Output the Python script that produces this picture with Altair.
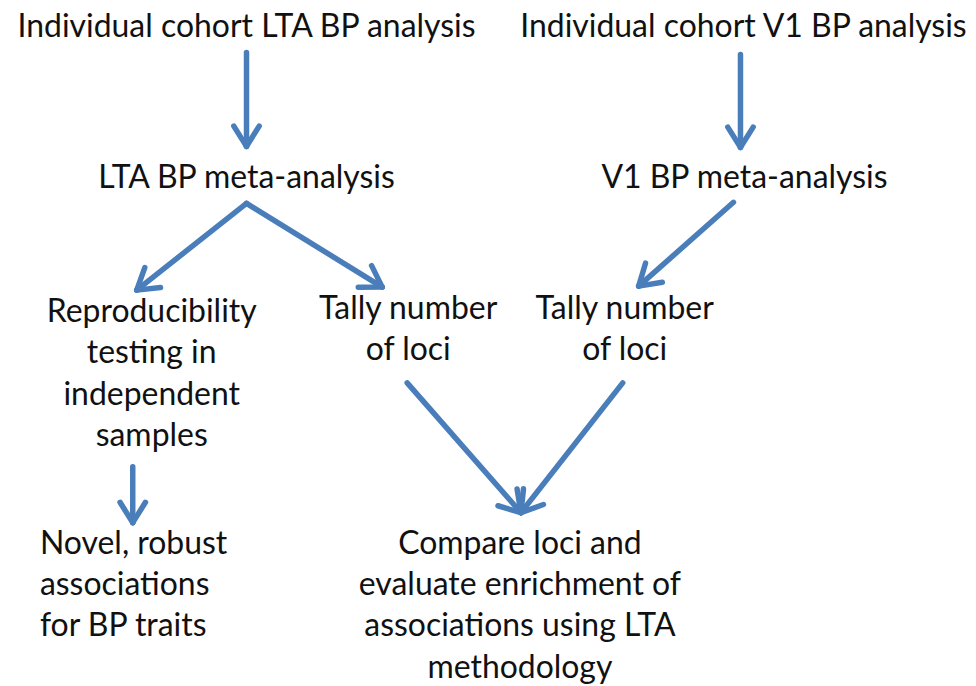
import math
import altair as alt
import pandas as pd

# ---- data: flowchart boxes (text lines, anchor x, first baseline y, alignment) ----
node_lines = [
    ["Individual cohort LTA BP analysis"],
    ["Individual cohort V1 BP analysis"],
    ["LTA BP meta-analysis"],
    ["V1 BP meta-analysis"],
    ["Reproducibility", "testing in", "independent", "samples"],
    ["Tally number", "of loci"],
    ["Tally number", "of loci"],
    ["Novel, robust", "associations", "for BP traits"],
    ["Compare loci and", "evaluate enrichment of", "associations using LTA", "methodology"],
]
node_x = [247, 745, 247, 746, 152, 409, 626, 40, 521]
node_y = [36, 36, 188, 188, 322, 319, 319, 554, 554]
node_align = ["center", "center", "center", "center", "center", "center", "center", "left", "center"]

# ---- data: arrows (start -> tip) ----
arrow_x1 = [247, 742, 247, 247, 735, 408, 624, 133]
arrow_y1 = [52, 54, 203, 203, 202, 383, 383, 467]
arrow_x2 = [247, 742, 137, 383, 640, 522, 522, 133]
arrow_y2 = [146, 147, 290, 287, 286, 513, 513, 523]

LINE_GAP = 41.5
HEAD_LEN = 24
HEAD_ANGLE = math.radians(32)
BLUE = "#4A7EBB"
FONT = "Lato"
FSIZE = 32

rows = []
for lines, x, y, al in zip(node_lines, node_x, node_y, node_align):
    for i, t in enumerate(lines):
        rows.append({"text": t, "x": x, "y": y + i * LINE_GAP, "align": al})
text_df = pd.DataFrame(rows)

segs = []
for x1, y1, x2, y2 in zip(arrow_x1, arrow_y1, arrow_x2, arrow_y2):
    segs.append({"x": x1, "y": y1, "x2": x2, "y2": y2})
    ang = math.atan2(y1 - y2, x1 - x2)
    for s in (-1, 1):
        a = ang + s * HEAD_ANGLE
        segs.append({"x": x2, "y": y2,
                     "x2": x2 + HEAD_LEN * math.cos(a),
                     "y2": y2 + HEAD_LEN * math.sin(a)})
seg_df = pd.DataFrame(segs)

W, H = 960, 670
xs = alt.Scale(domain=[8, 8 + W])
ys = alt.Scale(domain=[8, 8 + H], reverse=True)

arrows = alt.Chart(seg_df).mark_rule(
    color=BLUE, strokeWidth=5.5, strokeCap="round"
).encode(
    x=alt.X("x:Q", scale=xs, axis=None),
    y=alt.Y("y:Q", scale=ys, axis=None),
    x2="x2:Q",
    y2="y2:Q",
)

def text_layer(align):
    return alt.Chart(text_df[text_df["align"] == align]).mark_text(
        font=FONT, fontSize=FSIZE, color="#111111", align=align, baseline="alphabetic"
    ).encode(
        x=alt.X("x:Q", scale=xs, axis=None),
        y=alt.Y("y:Q", scale=ys, axis=None),
        text="text:N",
    )

chart = alt.layer(arrows, text_layer("center"), text_layer("left")).properties(
    width=W, height=H, padding=0, background="white"
).configure_view(stroke=None)

chart.save("out.html", embed_options={"renderer": "svg", "actions": False})
